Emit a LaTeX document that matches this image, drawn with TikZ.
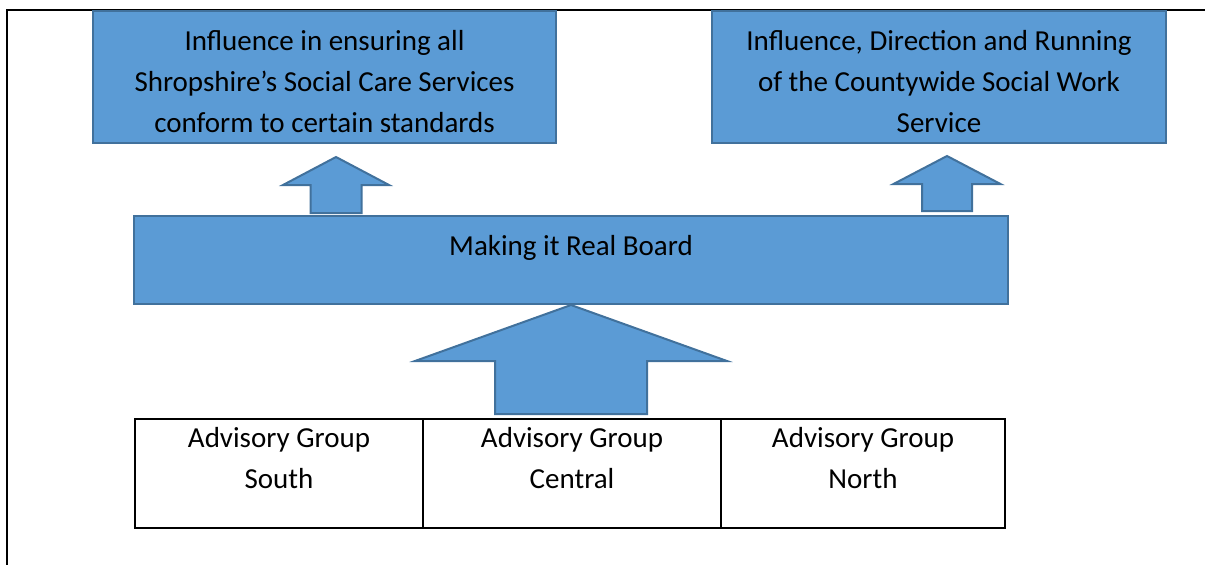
\documentclass[tikz,border=0pt]{standalone}
\usepackage{fontspec}
\setmainfont{Carlito}
\usetikzlibrary{positioning}
\definecolor{boxblue}{HTML}{5B9BD5}
\definecolor{boxedge}{HTML}{41719C}

% block arrow pointing up: centre x, tip y, head base y, bottom y, head half width, shaft half width
\newcommand{\blockup}[6]{%
  \draw[blkarrow] (#1,#2) -- (#1+#5,#3) -- (#1+#6,#3) -- (#1+#6,#4)
    -- (#1-#6,#4) -- (#1-#6,#3) -- (#1-#5,#3) -- cycle;}

\begin{document}
\begin{tikzpicture}[
  x=1pt, y=-1pt,
  font=\fontsize{29}{41}\selectfont,
  bluebox/.style ={draw=boxedge, fill=boxblue, line width=2pt, inner sep=0pt, outer sep=0pt},
  cell/.style    ={draw=black, fill=white, line width=2pt, inner sep=0pt, outer sep=0pt,
                   minimum height=109pt},
  txt/.style     ={align=center, inner sep=0pt, anchor=base},
  blkarrow/.style={draw=boxedge, fill=boxblue, line width=2pt, line join=miter}
]
\useasboundingbox (0,0) rectangle (1205,565);

% page frame
\draw[line width=2.2pt] (7,565) -- (7,10) -- (1205,10);

% the two outcomes (base anchor sits on the last line)
\node[bluebox, minimum width=463pt, minimum height=132pt] (stand) at (324.5,77) {};
\node[bluebox, minimum width=454pt, minimum height=132pt] (swork) at (939,77) {};
\node[txt] (standtxt) at (324.5,132)
  {Influence in ensuring all\\Shropshire’s Social Care Services\\conform to certain standards};
\node[txt] (sworktxt) at (939,132)
  {Influence, Direction and Running\\of the Countywide Social Work\\Service};

% the board
\node[bluebox, minimum width=874pt, minimum height=88pt] (board) at (571,260) {};
\node[txt] (boardtxt) at (571,255) {Making it Real Board};

\blockup{336}{157}{185}{213}{53}{25.5}
\blockup{947}{156}{184}{211}{53.5}{25}
\blockup{571}{305}{361}{414}{156}{76}

% advisory groups
\node[cell, minimum width=288pt] (south)   at (279,473.5) {};
\node[cell, minimum width=298pt] (central) at (572,473.5) {};
\node[cell, minimum width=284pt] (north)   at (863,473.5) {};
\node[txt] (southtxt)   at (south.center |- 0,488)   {Advisory Group\\South};
\node[txt] (centraltxt) at (central.center |- 0,488) {Advisory Group\\Central};
\node[txt] (northtxt)   at (north.center |- 0,488)   {Advisory Group\\North};
\end{tikzpicture}
\end{document}
